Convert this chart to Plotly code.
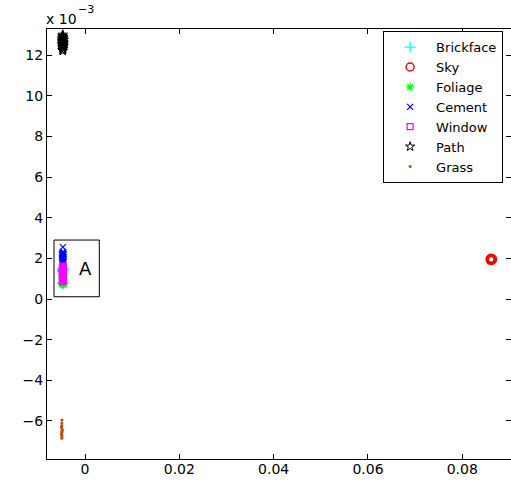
import plotly.graph_objects as go

# ---- data (y values in units of 1e-3) ----
classes = ["Brickface", "Sky", "Foliage", "Cement", "Window", "Path", "Grass"]

brick_x = [-0.0047, -0.0046, -0.0048, -0.0047, -0.0046, -0.0048, -0.0047, -0.0047]
brick_y = [1.50, 1.47, 1.44, 1.41, 1.38, 1.35, 0.80, 0.76]

sky_x = [0.0859, 0.0861, 0.0863, 0.0860, 0.0862, 0.0864, 0.0861, 0.0860, 0.0863, 0.0862]
sky_y = [1.95, 1.98, 1.94, 1.90, 1.92, 1.97, 2.00, 1.96, 1.91, 1.93]

foliage_x = [-0.0048, -0.0046, -0.0047, -0.0049, -0.0045, -0.0047]
foliage_y = [0.80, 0.78, 0.76, 0.74, 0.73, 0.71]

cement_x = [-0.0047, -0.0046, -0.0048, -0.0047, -0.0045, -0.0049, -0.0046, -0.0048,
            -0.0047, -0.0045, -0.0049, -0.0047, -0.0046, -0.0048, -0.0047, -0.0046,
            -0.0048, -0.0047]
cement_y = [2.55, 2.32, 2.28, 2.25, 2.22, 2.19, 2.16, 2.13, 2.10, 2.07, 2.04, 2.01,
            1.98, 1.95, 1.92, 1.88, 1.84, 1.80]

window_x = [-0.0047, -0.0046, -0.0048, -0.0047, -0.0046, -0.0048, -0.0047, -0.0046,
            -0.0048, -0.0047, -0.0046, -0.0048, -0.0047, -0.0046, -0.0048, -0.0047,
            -0.0046, -0.0048, -0.0047, -0.0047]
window_y = [1.62, 1.57, 1.53, 1.49, 1.45, 1.41, 1.37, 1.33, 1.29, 1.25, 1.21, 1.17,
            1.13, 1.09, 1.05, 1.01, 0.97, 0.93, 0.89, 0.85]

path_x = [-0.0047, -0.0048, -0.0046, -0.0048, -0.0046, -0.0049, -0.0045, -0.0047,
          -0.0049, -0.0046, -0.0048, -0.0045, -0.0047, -0.0049, -0.0046, -0.0048,
          -0.0045, -0.0047, -0.0048, -0.0046, -0.0048, -0.0047, -0.0046, -0.0048,
          -0.0047]
path_y = [13.00, 12.95, 12.90, 12.86, 12.82, 12.78, 12.75, 12.72, 12.68, 12.65,
          12.62, 12.60, 12.57, 12.55, 12.52, 12.50, 12.47, 12.45, 12.42, 12.40,
          12.37, 12.33, 12.30, 12.25, 12.20]

grass_x = [-0.0049, -0.0049, -0.0049, -0.0050, -0.0049, -0.0048, -0.0049, -0.0049,
           -0.0050, -0.0049, -0.0049, -0.0049]
grass_y = [-5.95, -6.10, -6.22, -6.30, -6.38, -6.45, -6.52, -6.58, -6.64, -6.70,
           -6.78, -6.85]

x_ticks = [0, 0.02, 0.04, 0.06, 0.08]
x_ticktext = ["0", "0.02", "0.04", "0.06", "0.08"]
y_ticks = [-6, -4, -2, 0, 2, 4, 6, 8, 10, 12]
y_ticktext = ["\u22126", "\u22124", "\u22122", "0", "2", "4", "6", "8", "10", "12"]

# region "A" box (data coords)
box_x = [-0.00657, 0.00303]
box_y = [0.11, 2.90]

series = [
    (brick_x, brick_y, "cross-thin-open", "#00ffff", 8, 1.2),
    (sky_x, sky_y, "circle-open", "#ff0000", 8, 1.5),
    (foliage_x, foliage_y, "asterisk-open", "#00ff00", 7, 1.2),
    (cement_x, cement_y, "x-thin-open", "#0000ff", 6, 1.2),
    (window_x, window_y, "square-open", "#ff00ff", 6, 1.2),
    (path_x, path_y, "star-open", "#000000", 7, 1.0),
    (grass_x, grass_y, "circle", "#be4b0a", 3, 0),
]

FONT = "DejaVu Sans"

fig = go.Figure()
for name, (xs, ys, sym, col, sz, lw) in zip(classes, series):
    fig.add_trace(go.Scatter(
        x=xs, y=ys, mode="markers", name=name,
        marker=dict(symbol=sym, color=col, size=sz, line=dict(color=col, width=lw)),
    ))

fig.add_shape(type="rect", x0=box_x[0], x1=box_x[1], y0=box_y[0], y1=box_y[1],
              xref="x", yref="y", line=dict(color="black", width=1))
fig.add_annotation(x=0.0002, y=1.52, xref="x", yref="y", text="A", showarrow=False,
                   font=dict(family=FONT, size=18, color="black"))
# exponent label "x 10^-3"
fig.add_annotation(x=-0.0065, y=1.0233, xref="paper", yref="paper", xanchor="left",
                   yanchor="middle", showarrow=False, text="x 10",
                   font=dict(family=FONT, size=14, color="black"))
fig.add_annotation(x=0.0625, y=1.0442, xref="paper", yref="paper", xanchor="left",
                   yanchor="middle", showarrow=False, text="\u22123",
                   font=dict(family=FONT, size=11, color="black"))

fig.update_layout(
    width=511, height=485,
    margin=dict(l=47, r=0, t=29, b=26),
    paper_bgcolor="white", plot_bgcolor="white",
    font=dict(family=FONT, size=14, color="black"),
    showlegend=True,
    legend=dict(x=0.983, y=0.995, xanchor="right", yanchor="top",
                bordercolor="black", borderwidth=1, bgcolor="white",
                font=dict(family=FONT, size=13), tracegroupgap=0,
                itemwidth=42),
    xaxis=dict(range=[-0.00806, 0.09033], tickvals=x_ticks, ticktext=x_ticktext,
               showgrid=False, zeroline=False, showline=True, linecolor="black",
               linewidth=1, mirror="ticks", ticks="inside", ticklen=5,
               tickcolor="black", ticklabelstandoff=-3),
    yaxis=dict(range=[-7.87, 13.28], tickvals=y_ticks, ticktext=y_ticktext,
               showgrid=False, zeroline=False, showline=True, linecolor="black",
               linewidth=1, mirror="ticks", ticks="inside", ticklen=5,
               tickcolor="black"),
)

fig.write_html("out.html")
